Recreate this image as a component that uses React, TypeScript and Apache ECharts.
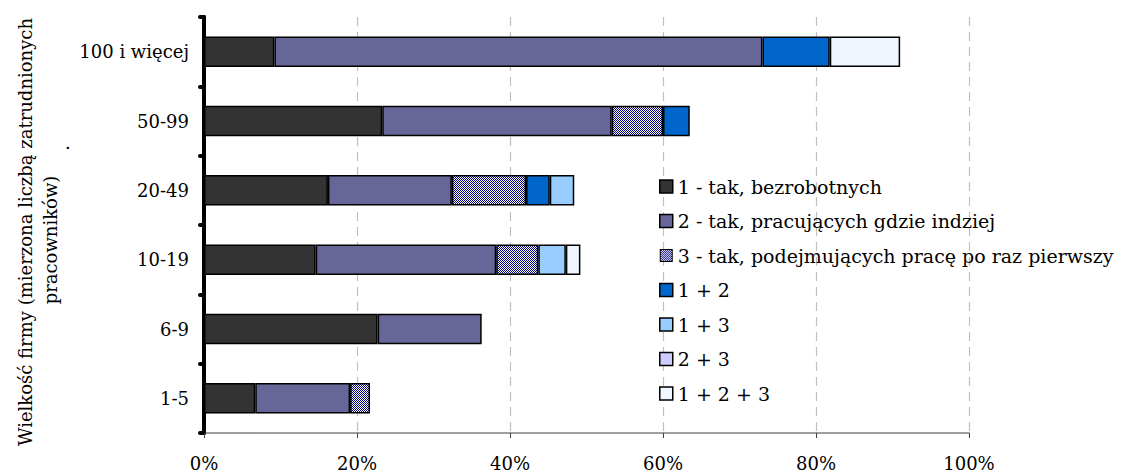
import React, { useEffect, useRef } from "react";
import * as echarts from "echarts";

const categories = ["100 i więcej", "50-99", "20-49", "10-19", "6-9", "1-5"];
const seriesNames = [
  "1 - tak, bezrobotnych",
  "2 - tak, pracujących gdzie indziej",
  "3 - tak, podejmujących pracę po raz pierwszy",
  "1 + 2",
  "1 + 3",
  "2 + 3",
  "1 + 2 + 3",
];
const s1 = [9.2, 23.3, 16.2, 14.6, 22.7, 6.7];
const s2 = [63.8, 30.0, 16.2, 23.6, 13.6, 12.4];
const s3 = [null, 6.7, 9.7, 5.5, null, 2.6];
const s12 = [8.8, 3.5, 3.1, null, null, null];
const s13 = [null, null, 3.2, 3.6, null, null];
const s23 = [null, null, null, null, null, null];
const s123 = [9.2, null, null, 1.9, null, null];
const seriesValues = [s1, s2, s3, s12, s13, s23, s123];
const xTicks = [0, 20, 40, 60, 80, 100];

const FONT = "DejaVu Serif";
const FS = 18;

export default function App() {
  const ref = useRef<HTMLDivElement>(null);
  useEffect(() => {
    if (!ref.current) return;
    const chart = echarts.init(ref.current, undefined, { renderer: "svg" });
    const cv = document.createElement("canvas");
    cv.width = 2;
    cv.height = 2;
    const ctx = cv.getContext("2d")!;
    ctx.fillStyle = "#ffffff";
    ctx.fillRect(0, 0, 2, 2);
    ctx.fillStyle = "#000080";
    ctx.fillRect(0, 0, 1, 1);
    ctx.fillRect(1, 1, 1, 1);
    const pattern = { image: cv, repeat: "repeat" };

    // legend icon for the patterned series
    const ic = document.createElement("canvas");
    ic.width = 13;
    ic.height = 13;
    const ictx = ic.getContext("2d")!;
    ictx.fillStyle = "#000";
    ictx.fillRect(0, 0, 13, 13);
    for (let yy = 1; yy < 12; yy++) {
      for (let xx = 1; xx < 12; xx++) {
        ictx.fillStyle = (xx + yy) % 2 === 0 ? "#000080" : "#ffffff";
        ictx.fillRect(xx, yy, 1, 1);
      }
    }
    const patternIcon = "image://" + ic.toDataURL();

    const colors: any[] = [
      "#333333",
      "#666699",
      pattern,
      "#0066CC",
      "#99CCFF",
      "#CCCCFF",
      "#F0F6FF",
    ];
    const titleStyle = {
      fontFamily: FONT,
      fontSize: FS,
      fill: "#000",
      textAlign: "center",
      textVerticalAlign: "middle",
    };
    chart.setOption({
      animation: false,
      grid: { left: 204, right: 153, top: 17, bottom: 41 },
      legend: {
        orient: "vertical",
        left: 654,
        top: 172,
        itemWidth: 13,
        itemHeight: 13,
        itemGap: 15.5,
        icon: "rect",
        data: seriesNames.map((name, i) =>
          i === 2
            ? { name, icon: patternIcon }
            : { name, itemStyle: { color: colors[i], borderColor: "#000", borderWidth: 1.5 } }
        ),
        textStyle: { fontFamily: FONT, fontSize: 19, color: "#000" },
      },
      graphic: [
        {
          type: "text",
          x: 25,
          y: 232,
          rotation: Math.PI / 2,
          style: { ...titleStyle, text: "Wielkość firmy (mierzona liczbą zatrudnionych" },
        },
        {
          type: "text",
          x: 50,
          y: 240,
          rotation: Math.PI / 2,
          style: { ...titleStyle, text: "pracowników)" },
        },
        {
          type: "text",
          x: 62,
          y: 148,
          rotation: Math.PI / 2,
          style: { ...titleStyle, text: "." },
        },
      ],
      xAxis: {
        type: "value",
        min: xTicks[0],
        max: xTicks[xTicks.length - 1],
        interval: 20,
        axisLine: { show: true, lineStyle: { color: "#808080", width: 1.5 } },
        axisTick: { show: true, length: 5, inside: false, lineStyle: { color: "#404040", width: 1 } },
        axisLabel: {
          formatter: "{value}%",
          fontFamily: FONT,
          fontSize: FS,
          color: "#000",
          margin: 21,
        },
        splitLine: { show: true, lineStyle: { color: "#BFBFBF", type: [9, 6], width: 1.2 } },
      },
      yAxis: {
        type: "category",
        data: categories,
        inverse: true,
        axisLine: { show: true, lineStyle: { color: "#000", width: 4 } },
        axisTick: { show: true, length: 4, lineStyle: { color: "#000", width: 4, cap: "round" } },
        axisLabel: {
          fontFamily: FONT,
          fontSize: FS,
          color: "#000",
          margin: 15,
        },
      },
      series: seriesNames.map((name, i) => ({
        name,
        type: "bar",
        stack: "total",
        barWidth: "44%",
        data: seriesValues[i],
        itemStyle: { color: colors[i], borderColor: "#000", borderWidth: 1.5 },
      })),
    });
    return () => chart.dispose();
  }, []);
  return <div ref={ref} style={{ width: 1122, height: 474, position: "absolute", left: 0, top: 0 }} />;
}
